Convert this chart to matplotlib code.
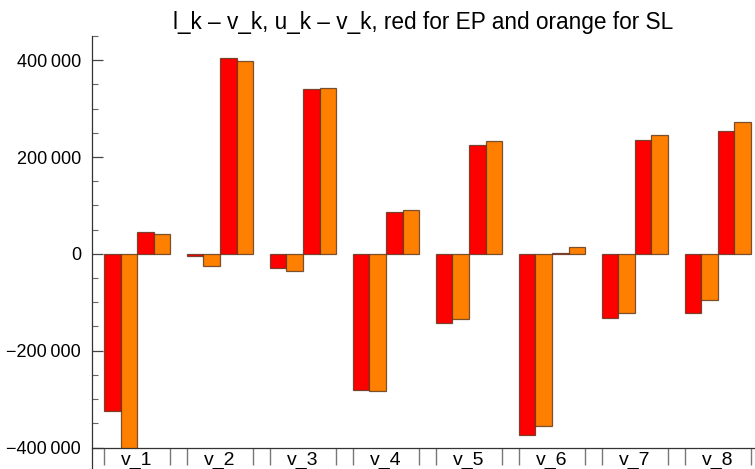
import matplotlib
matplotlib.use("Agg")
import matplotlib.pyplot as plt
import numpy as np

plt.rcParams['font.family'] = ['Liberation Sans', 'DejaVu Sans']

categories = ["v_1", "v_2", "v_3", "v_4", "v_5", "v_6", "v_7", "v_8"]
l_minus_v_EP = [-324700, -3500, -28700, -280400, -142200, -373300, -133000, -123000]
l_minus_v_SL = [-410000, -26000, -36300, -282500, -135400, -355500, -121700, -95000]
u_minus_v_EP = [45700, 405500, 340000, 86800, 224200, 2000, 234500, 253000]
u_minus_v_SL = [41600, 398000, 342000, 90900, 232400, 14000, 246200, 271400]
ytick_vals = [-400000, -200000, 0, 200000, 400000]
ytick_labels = ["\u2212400\u2009000", "\u2212200\u2009000", "0", "200\u2009000", "400\u2009000"]

RED = "#ff0000"
ORANGE = "#ff8000"
EDGE = (0.35, 0.2, 0.1, 0.8)

W, H = 755, 469
fig = plt.figure(figsize=(W / 100, H / 100), dpi=100)
ax = fig.add_axes([92 / W, (H - 447.5) / H, 663 / W, (447.5 - 36) / H])

n = len(categories)
base = np.arange(n) * 5
series = [(l_minus_v_EP, RED), (l_minus_v_SL, ORANGE), (u_minus_v_EP, RED), (u_minus_v_SL, ORANGE)]
for j, (vals, col) in enumerate(series):
    ax.bar(base + j, vals, width=1.0, align='edge', color=col, edgecolor=EDGE, linewidth=0.9, zorder=2)

ax.set_xlim(-0.72, 39.24)
ax.set_ylim(-395000, 450000)

for s in ['top', 'right']:
    ax.spines[s].set_visible(False)
ax.spines['left'].set_visible(False)
ax.spines['bottom'].set_color('#333333')
ax.spines['bottom'].set_linewidth(0.9)
# left axis line extending below the bottom
ax.plot([0, 0], [-0.06, 1.0], transform=ax.transAxes, color='#333333', lw=0.9, clip_on=False, zorder=3)

ax.set_yticks(ytick_vals)
ax.set_yticklabels(ytick_labels)
ax.set_yticks(np.arange(-350000, 460000, 50000), minor=True)
ax.tick_params(axis='y', which='major', direction='in', length=8, width=0.9, color='#444444',
               labelsize=13, pad=8)
ax.tick_params(axis='y', which='minor', direction='in', length=4.5, width=0.8, color='#666666')

centers = base + 2
ax.set_xticks(centers)
ax.set_xticklabels(categories)
edges = np.concatenate([base, base + 4])
ax.set_xticks(edges, minor=True)
ax.tick_params(axis='x', which='major', length=0, labelsize=14, pad=3)
ax.tick_params(axis='x', which='minor', direction='out', length=12, width=1.0, color='#777777')

fig.text((92 + 755) / 2 / W, 1 - 22 / H, "l_k \u2013 v_k, u_k \u2013 v_k, red for EP and orange for SL",
         ha='center', va='center', fontsize=16.3)

fig.savefig("out.png", dpi=100)
